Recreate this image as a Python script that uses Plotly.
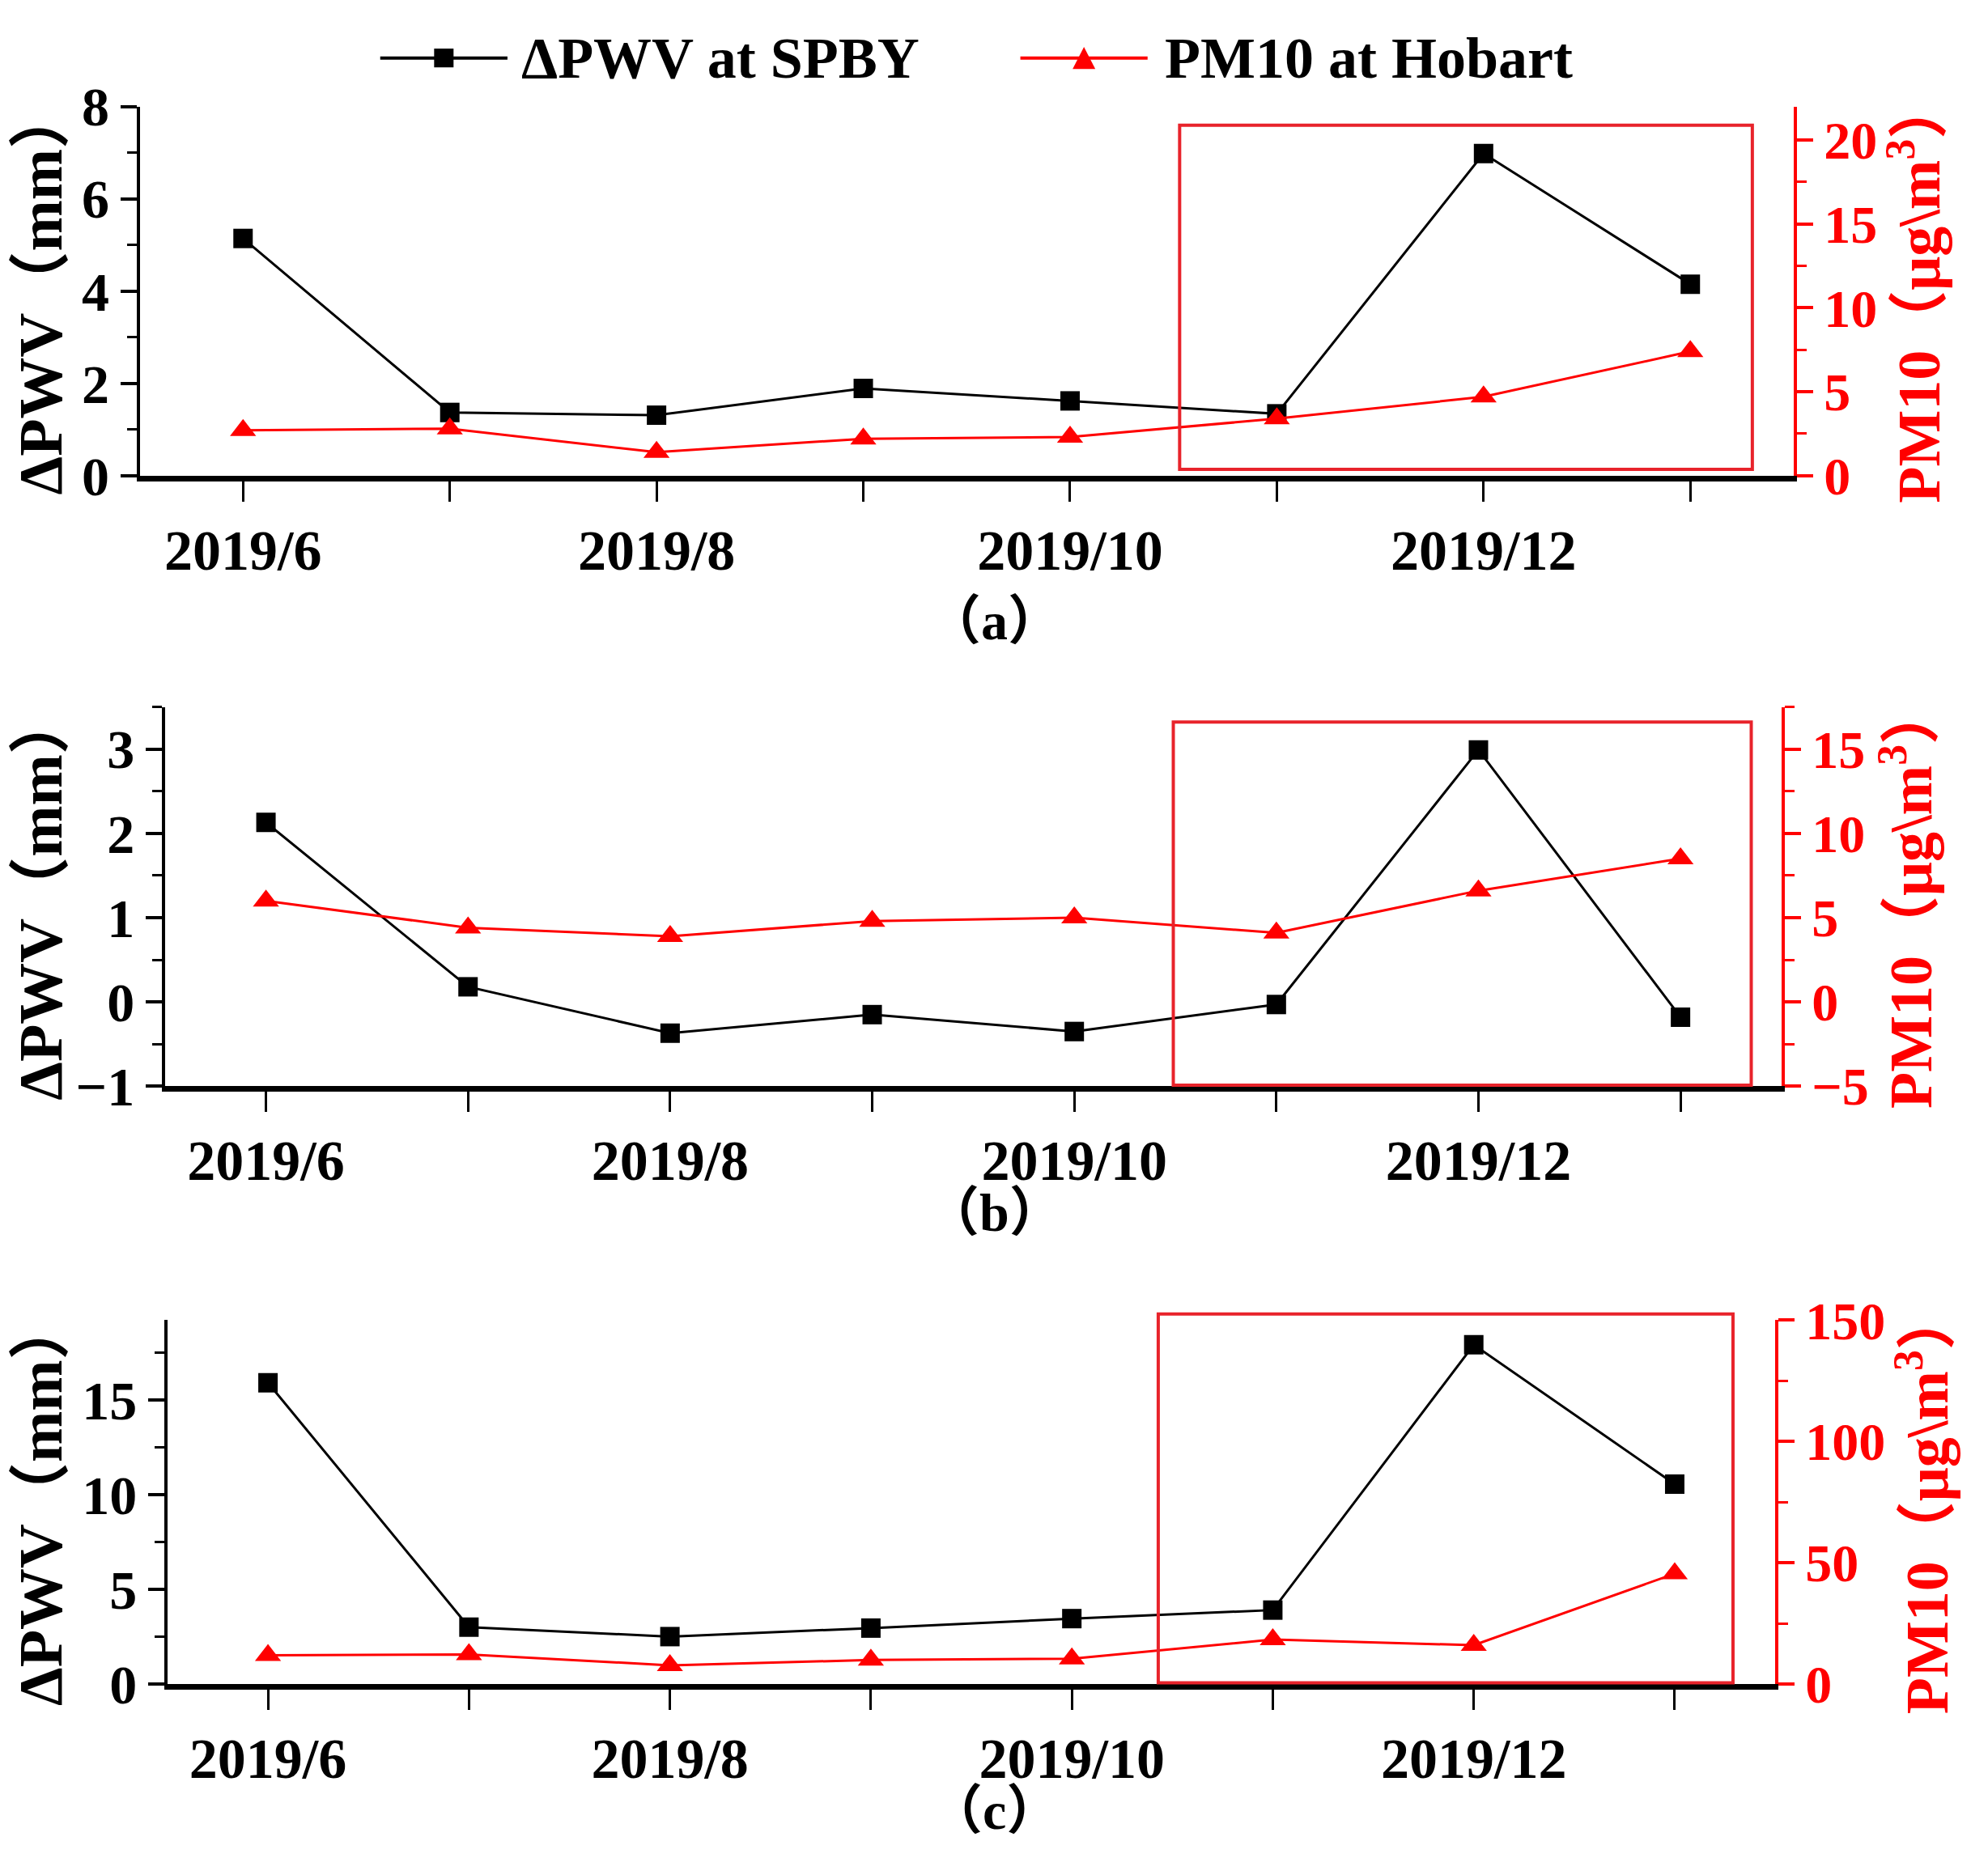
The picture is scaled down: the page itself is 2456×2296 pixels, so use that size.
import plotly.graph_objects as go
from plotly.subplots import make_subplots

MONTHS = ["2019/6", "2019/7", "2019/8", "2019/9", "2019/10", "2019/11", "2019/12", "2020/1"]
LABELED_MONTHS = ["2019/6", "2019/8", "2019/10", "2019/12"]

PWV_A = [5.14, 1.37, 1.31, 1.89, 1.62, 1.34, 6.98, 4.15]
PM10_A = [2.7, 2.8, 1.4, 2.2, 2.3, 3.4, 4.7, 7.4]
PWV_B = [2.13, 0.18, -0.37, -0.15, -0.35, -0.03, 2.99, -0.18]
PM10_B = [6.0, 4.4, 3.9, 4.8, 5.0, 4.1, 6.6, 8.5]
PWV_C = [15.9, 3.0, 2.5, 2.95, 3.45, 3.9, 17.9, 10.55]
PM10_C = [11.8, 12.2, 7.7, 9.9, 10.4, 18.3, 16.0, 45.5]

PWV = [PWV_A, PWV_B, PWV_C]
PM10 = [PM10_A, PM10_B, PM10_C]
PANEL_LABELS = ["（a）", "（b）", "（c）"]
PWV_RANGES = [[0, 8], [-1, 3.5], [0, 19.2]]
PM10_RANGES = [[0, 22], [-5, 17.5], [0, 150]]
PWV_DTICK = [2, 1, 5]
PM10_DTICK = [5, 5, 50]
# highlighted period (Nov 2019 - Jan 2020), in month-index units
BOX_X = [[4.53, 7.30], [4.49, 7.35], [4.43, 7.29]]

LEGEND_NAMES = ["ΔPWV at SPBY", "PM10 at Hobart"]

FONT = "Liberation Serif, Times New Roman, Noto Sans CJK SC, serif"
RED = "#ff0000"
BOX_RED = "#e8232b"

W, H = 2456, 2296
X_DOM = [(0.067, 0.899), (0.0797, 0.8929), (0.081, 0.8897)]
Y_DOM = [(0.7555, 0.961), (0.4156, 0.6268), (0.0829, 0.2854)]
BOX_Y = [(0.017, 0.949), (0.003, 0.96), (0.003, 1.017)]
CAPTION_Y = [0.6745, 0.3452, 0.0125]

month_idx = list(range(len(MONTHS)))
label_idx = [MONTHS.index(m) for m in LABELED_MONTHS]

fig = make_subplots(rows=3, cols=1, specs=[[{"secondary_y": True}]] * 3)

for i in range(3):
    r = i + 1
    fig.add_trace(
        go.Scatter(
            x=month_idx, y=PWV[i], mode="lines+markers", name=LEGEND_NAMES[0],
            text=MONTHS, line=dict(color="black", width=3),
            marker=dict(symbol="square", size=24, color="black"),
            showlegend=False,
        ),
        row=r, col=1, secondary_y=False,
    )
    fig.add_trace(
        go.Scatter(
            x=month_idx, y=PM10[i], mode="lines+markers", name=LEGEND_NAMES[1],
            text=MONTHS, line=dict(color=RED, width=3),
            marker=dict(symbol="triangle-up", size=28, color=RED),
            showlegend=False,
        ),
        row=r, col=1, secondary_y=True,
    )

    xa = "xaxis" if r == 1 else f"xaxis{r}"
    ya = "yaxis" if r == 1 else f"yaxis{2 * r - 1}"
    ya2 = f"yaxis{2 * r}"
    xref = "x" if r == 1 else f"x{r}"
    yref = "y" if r == 1 else f"y{2 * r - 1}"

    fig.layout[xa].update(
        domain=X_DOM[i], range=[-0.5, len(MONTHS) - 0.5],
        tickmode="array", tickvals=label_idx, ticktext=LABELED_MONTHS,
        ticks="outside", ticklen=25, tickwidth=3, tickcolor="black",
        minor=dict(ticks="outside", ticklen=25, tickwidth=3, tickcolor="black",
                   dtick=1, tick0=0),
        showline=True, linecolor="black", linewidth=7, showgrid=False, zeroline=False,
        tickfont=dict(family=FONT, size=70, color="black", weight="bold"),
    )
    fig.layout[ya].update(
        domain=Y_DOM[i], range=PWV_RANGES[i], dtick=PWV_DTICK[i], tick0=0,
        ticks="outside", ticklen=20, tickwidth=4, tickcolor="black",
        minor=dict(ticks="outside", ticklen=12, tickwidth=3, tickcolor="black",
                   dtick=PWV_DTICK[i] / 2, tick0=0),
        showline=True, linecolor="black", linewidth=4, showgrid=False, zeroline=False,
        tickfont=dict(family=FONT, size=68, color="black", weight="bold"),
        title=dict(text="ΔPWV（mm）", standoff=4,
                   font=dict(family=FONT, size=76, color="black", weight="bold")),
    )
    fig.layout[ya2].update(
        range=PM10_RANGES[i], dtick=PM10_DTICK[i], tick0=0,
        ticks="outside", ticklen=20, tickwidth=4, tickcolor=RED,
        minor=dict(ticks="outside", ticklen=12, tickwidth=3, tickcolor=RED,
                   dtick=PM10_DTICK[i] / 2, tick0=0),
        showline=True, linecolor=RED, linewidth=4, showgrid=False, zeroline=False,
        tickfont=dict(family=FONT, size=66, color=RED, weight="bold"),
        title=dict(text="PM10（μg\\m<sup>3</sup>）", standoff=4,
                   font=dict(family=FONT, size=74, color=RED, weight="bold")),
    )

    fig.add_shape(
        type="rect", xref=xref, yref=f"{yref} domain",
        x0=BOX_X[i][0], x1=BOX_X[i][1], y0=BOX_Y[i][0], y1=BOX_Y[i][1],
        line=dict(color=BOX_RED, width=4), fillcolor="rgba(0,0,0,0)",
    )
    fig.add_annotation(
        text=PANEL_LABELS[i], xref="paper", yref="paper", x=0.497, y=CAPTION_Y[i],
        xanchor="center", yanchor="middle", showarrow=False,
        font=dict(family=FONT, size=66, color="black", weight="bold"),
    )

# legend row at the top
LEG_Y = 0.988
legend_items = [
    dict(x0=0.188, x1=0.252, color="black", glyph="square", text_x=0.258),
    dict(x0=0.510, x1=0.574, color=RED, glyph="triangle", text_x=0.582),
]
for name, item in zip(LEGEND_NAMES, legend_items):
    fig.add_shape(type="line", xref="paper", yref="paper",
                  x0=item["x0"], x1=item["x1"], y0=LEG_Y, y1=LEG_Y,
                  line=dict(color=item["color"], width=4))
    cx = (item["x0"] + item["x1"]) / 2
    hw, hh = 12 / W, 12 / H
    if item["glyph"] == "square":
        fig.add_shape(type="rect", xref="paper", yref="paper",
                      x0=cx - hw, x1=cx + hw, y0=LEG_Y - hh, y1=LEG_Y + hh,
                      line=dict(width=0), fillcolor=item["color"])
    else:
        tw, th = 14 / W, 14 / H
        fig.add_shape(type="path", xref="paper", yref="paper",
                      path=f"M {cx - tw} {LEG_Y - th} L {cx + tw} {LEG_Y - th} L {cx} {LEG_Y + th} Z",
                      line=dict(width=0), fillcolor=item["color"])
    fig.add_annotation(
        text=name, xref="paper", yref="paper", x=item["text_x"], y=LEG_Y,
        xanchor="left", yanchor="middle", showarrow=False,
        font=dict(family=FONT, size=72, color="black", weight="bold"),
    )

fig.update_layout(
    width=W, height=H,
    margin=dict(l=0, r=0, t=0, b=0),
    paper_bgcolor="white", plot_bgcolor="white",
    showlegend=False,
    font=dict(family=FONT),
)

fig.write_html("out.html")
